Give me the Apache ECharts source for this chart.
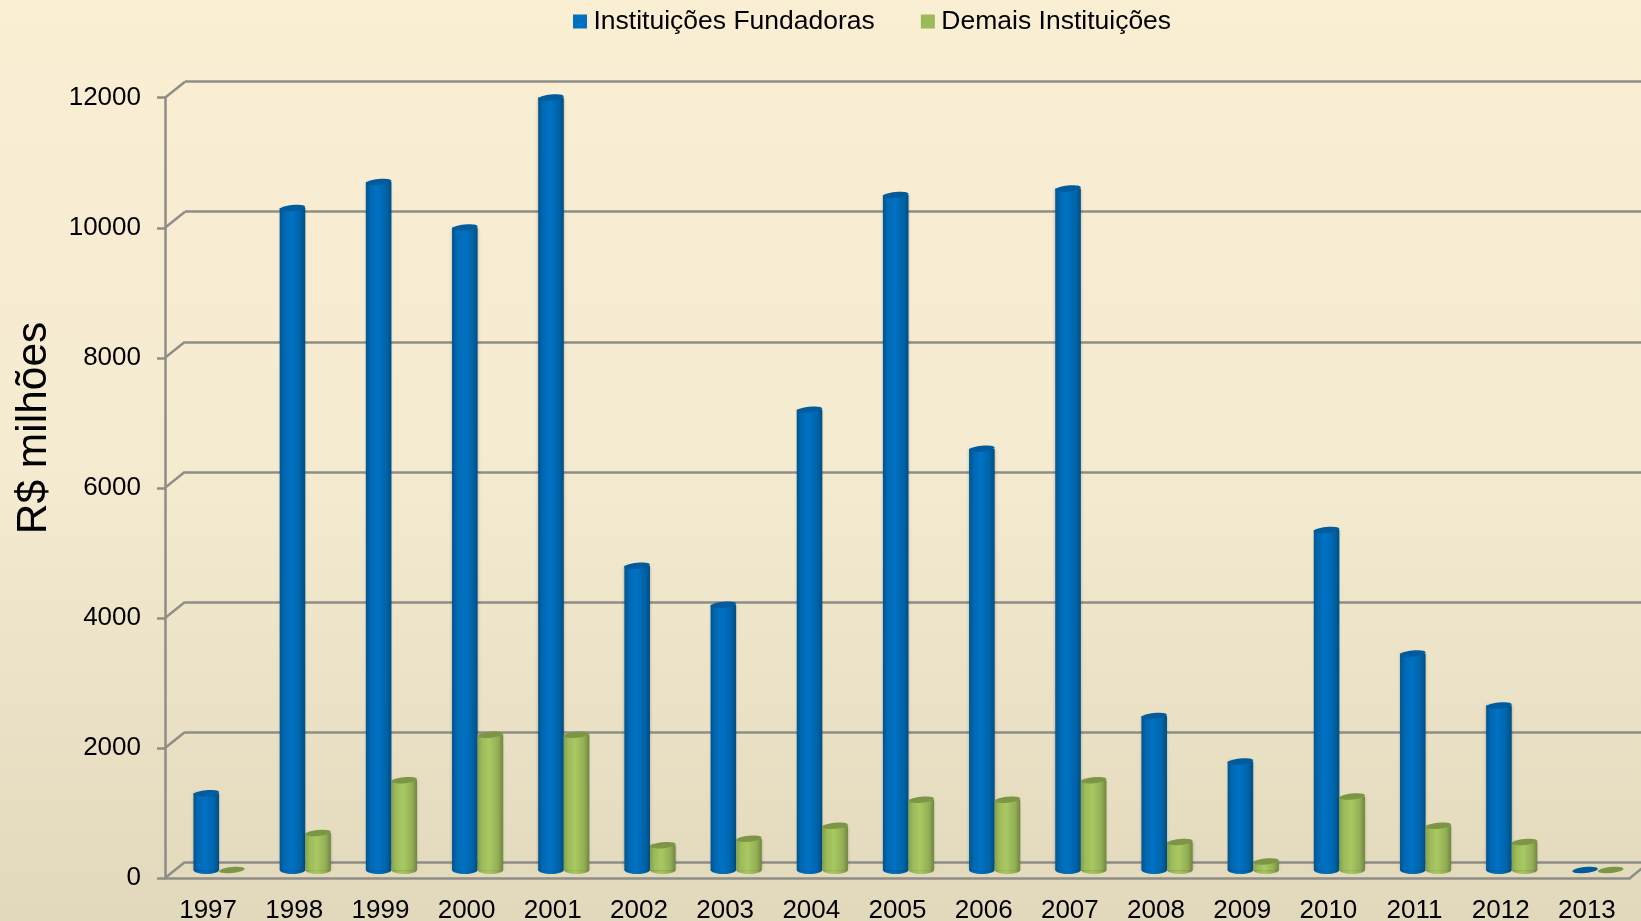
<!DOCTYPE html>
<html>
<head>
<meta charset="utf-8">
<title>R$ milhões</title>
<script src="https://cdn.jsdelivr.net/npm/echarts@6/dist/echarts.min.js"></script>
<style>
html, body { margin: 0; padding: 0; }
#main { width: 1641px; height: 921px; }
</style>
</head>
<body>
<div id="main"></div>
<script>
var anos = ['1997','1998','1999','2000','2001','2002','2003','2004','2005','2006','2007','2008','2009','2010','2011','2012','2013'];
var fundadoras = [1180,10180,10580,9880,11880,4680,4080,7080,10380,6480,10480,2370,1670,5230,3330,2530,0];
var demais = [0,570,1380,2080,2080,380,480,680,1080,1080,1380,430,130,1130,680,430,0];
var yTicks = [0,2000,4000,6000,8000,10000,12000];

var fonte = '"Liberation Sans", Arial, sans-serif';
var cinza = '#8e8e86';

// cilindro: corpo com degrade horizontal e duas elipses
function cilindro(lado, cores, topo) {
    return function (params, api) {
        var p = api.coord([api.value(0), api.value(1)]);
        var base = api.coord([api.value(0), 0]);
        var w = api.size([1, 0])[0] * 0.297;
        var x = lado < 0 ? p[0] - w : p[0];
        var filhos = [];
        if (api.value(1) > 0) {
            var grad = new echarts.graphic.LinearGradient(0, 0, 1, 0, cores);
            filhos.push({
                type: 'ellipse',
                shape: { cx: x + w / 2, cy: base[1], rx: w / 2, ry: 4 },
                style: { fill: grad }
            });
            filhos.push({
                type: 'rect',
                shape: { x: x, y: p[1], width: w, height: base[1] - p[1] },
                style: { fill: grad, shadowBlur: 3, shadowColor: 'rgba(0,0,0,0.25)' }
            });
        }
        // tampa levemente inclinada, como no grafico 3D
        filhos.push({
            type: 'ellipse',
            originX: x + w / 2,
            originY: p[1],
            rotation: 0.1,
            shape: { cx: x + w / 2, cy: p[1], rx: w / 2, ry: 3 },
            style: { fill: topo }
        });
        return { type: 'group', children: filhos };
    };
}

// ligacao da parede do fundo com o eixo da frente
function diagonal(params, api) {
    var p = api.coord([api.value(0), api.value(1)]);
    var x = p[0] + api.value(2) * api.size([1, 0])[0] / 2;
    return {
        type: 'line',
        shape: { x1: x, y1: p[1], x2: x + 20, y2: p[1] - 16 },
        style: { stroke: cinza, lineWidth: 2.5 }
    };
}

var chart = echarts.init(document.getElementById('main'));
var option = {
    animation: false,
    backgroundColor: new echarts.graphic.LinearGradient(0, 0, 0, 1, [
        { offset: 0, color: '#faeed3' },
        { offset: 0.5, color: '#f5ebd0' },
        { offset: 1, color: '#e2d9bd' }
    ]),
    textStyle: { fontFamily: fonte },
    legend: {
        top: 3,
        left: 568,
        itemWidth: 14,
        itemHeight: 14,
        itemGap: 46,
        icon: 'rect',
        textStyle: { fontFamily: fonte, fontSize: 26.5, color: '#000', padding: [0, 0, 0, 1.5] },
        data: ['Instituições Fundadoras', 'Demais Instituições']
    },
    graphic: [{
        type: 'text',
        x: 34,
        y: 428,
        rotation: Math.PI / 2,
        style: { text: 'R$ milhões', font: '42.5px ' + fonte, fill: '#000', align: 'center', verticalAlign: 'middle' }
    }],
    grid: [
        { left: 165, top: 97.7, width: 1465, height: 780.3, outerBoundsMode: 'none' },
        { left: 185, top: 81.7, width: 1465, height: 780.3, outerBoundsMode: 'none' },
        { left: 176, top: 89.7, width: 1465, height: 780.3, outerBoundsMode: 'none' }
    ],
    xAxis: [
        {
            type: 'category', gridIndex: 0, data: anos,
            axisLine: { lineStyle: { color: cinza, width: 2.5 } },
            axisTick: { length: 8, lineStyle: { color: cinza, width: 2.5 } },
            axisLabel: { fontSize: 26, color: '#000', margin: 20, fontFamily: fonte, interval: 0 }
        },
        { type: 'category', gridIndex: 1, data: anos, show: false },
        { type: 'category', gridIndex: 2, data: anos, show: false }
    ],
    yAxis: [
        {
            type: 'value', gridIndex: 0, min: 0, max: 12000, interval: 2000,
            axisLine: { show: true, lineStyle: { color: cinza, width: 2.5 } },
            axisTick: { show: true, length: 8, lineStyle: { color: cinza, width: 2.5 } },
            axisLabel: { fontSize: 26, color: '#000', margin: 24, padding: [5, 0, 0, 0], fontFamily: fonte, formatter: function (v) { return String(v); } },
            splitLine: { show: false }
        },
        {
            type: 'value', gridIndex: 1, min: 0, max: 12000, interval: 2000,
            axisLine: { show: false }, axisTick: { show: false }, axisLabel: { show: false },
            splitLine: { show: true, lineStyle: { color: cinza, width: 2.5 } }
        },
        { type: 'value', gridIndex: 2, min: 0, max: 12000, interval: 2000, show: false, splitLine: { show: false } }
    ],
    series: [
        {
            name: 'depth',
            type: 'custom', xAxisIndex: 0, yAxisIndex: 0, silent: true, clip: false,
            encode: { x: 0, y: 1 },
            renderItem: diagonal,
            data: yTicks.map(function (v) { return [0, v, -1]; }).concat([[16, 0, 1]])
        },
        {
            name: 'Instituições Fundadoras',
            type: 'custom', xAxisIndex: 2, yAxisIndex: 2, clip: false, z: 3,
            itemStyle: { color: '#0070c0' },
            encode: { x: 0, y: 1 },
            renderItem: cilindro(-1, [
                { offset: 0, color: '#00558f' },
                { offset: 0.18, color: '#0068b2' },
                { offset: 0.45, color: '#0072c4' },
                { offset: 0.8, color: '#0063a8' },
                { offset: 1, color: '#004f82' }
            ], '#005c9c'),
            data: fundadoras.map(function (v, i) { return [i, v]; })
        },
        {
            name: 'Demais Instituições',
            type: 'custom', xAxisIndex: 2, yAxisIndex: 2, clip: false, z: 3,
            itemStyle: { color: '#9bbb59' },
            encode: { x: 0, y: 1 },
            renderItem: cilindro(1, [
                { offset: 0, color: '#86a04c' },
                { offset: 0.18, color: '#9dbb5a' },
                { offset: 0.45, color: '#a8c962' },
                { offset: 0.8, color: '#93ae55' },
                { offset: 1, color: '#6f8640' }
            ], '#7d9645'),
            data: demais.map(function (v, i) { return [i, v]; })
        }
    ]
};
chart.setOption(option);
</script>
</body>
</html>
